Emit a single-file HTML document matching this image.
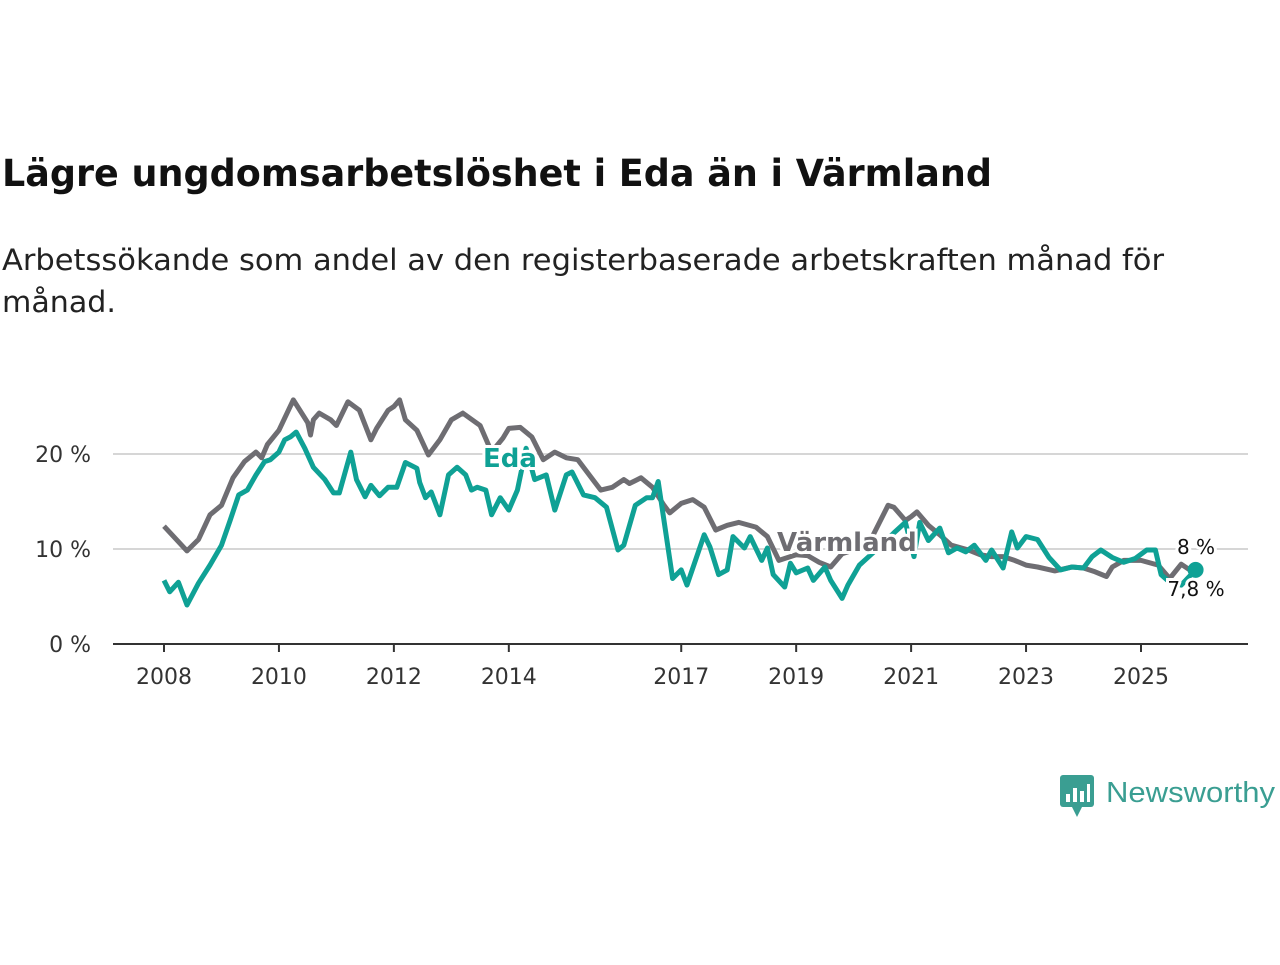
<!DOCTYPE html>
<html><head><meta charset="utf-8"><style>
body{margin:0;background:#fff;width:1280px;height:960px;overflow:hidden;font-family:"Liberation Sans","DejaVu Sans",sans-serif;}
svg text{font-family:"DejaVu Sans","Liberation Sans",sans-serif;}
</style></head><body>
<svg width="1280" height="960">
<text x="2" y="186" font-size="37" font-weight="bold" fill="#111" textLength="990" lengthAdjust="spacingAndGlyphs">Lägre ungdomsarbetslöshet i Eda än i Värmland</text>
<text x="2" y="270" font-size="29" fill="#222" textLength="1162" lengthAdjust="spacingAndGlyphs">Arbetssökande som andel av den registerbaserade arbetskraften månad för</text>
<text x="2" y="312" font-size="29" fill="#222" textLength="114" lengthAdjust="spacingAndGlyphs">månad.</text>
<g id="grid"></g><g id="axes"></g><g id="lines"></g><g id="labels"></g>
<g>
<rect x="1060" y="775" width="34" height="32" rx="3" fill="#3a9e92"/>
<path d="M1072 807 L1077 817 L1082 807 Z" fill="#3a9e92"/>
<rect x="1066" y="794" width="4" height="8" fill="#fff"/><rect x="1073" y="788" width="4" height="14" fill="#fff"/><rect x="1080" y="791" width="4" height="11" fill="#fff"/><rect x="1087" y="784" width="3" height="18" fill="#fff"/>
<text x="1106" y="802" font-size="29" fill="#3a9e92" textLength="169" lengthAdjust="spacingAndGlyphs" style="font-family:'Liberation Sans',sans-serif">Newsworthy</text>
</g>
</svg>
<script>
const ticksY=[0,10,20];
const ticksX=[2008,2010,2012,2014,2017,2019,2021,2023,2025];
const vDates=[2008.0,2008.4,2008.6,2008.8,2009.0,2009.2,2009.4,2009.6,2009.7,2009.8,2010.0,2010.25,2010.5,2010.55,2010.6,2010.7,2010.9,2011.0,2011.2,2011.4,2011.6,2011.7,2011.9,2012.0,2012.1,2012.2,2012.4,2012.6,2012.8,2013.0,2013.2,2013.5,2013.7,2013.9,2014.0,2014.2,2014.4,2014.6,2014.8,2015.0,2015.2,2015.5,2015.6,2015.8,2016.0,2016.1,2016.3,2016.5,2016.7,2016.8,2017.0,2017.2,2017.4,2017.6,2017.8,2018.0,2018.3,2018.5,2018.7,2018.9,2019.0,2019.2,2019.4,2019.6,2019.8,2020.0,2020.3,2020.6,2020.7,2020.9,2021.0,2021.1,2021.3,2021.5,2021.7,2022.0,2022.2,2022.4,2022.6,2022.8,2023.0,2023.2,2023.5,2023.8,2024.0,2024.2,2024.4,2024.5,2024.7,2025.0,2025.3,2025.5,2025.7,2025.85,2025.95];
const vVals=[12.4,9.8,11,13.6,14.6,17.5,19.2,20.2,19.6,21,22.5,25.7,23.3,22,23.6,24.3,23.6,23,25.5,24.6,21.5,22.7,24.6,25,25.7,23.6,22.5,19.9,21.5,23.6,24.3,23,20.2,21.7,22.7,22.8,21.8,19.4,20.2,19.6,19.4,17,16.2,16.5,17.3,16.9,17.5,16.5,14.6,13.8,14.8,15.2,14.4,12,12.5,12.8,12.3,11.3,8.8,9.2,9.4,9.3,8.6,8.1,9.5,9.9,11,14.6,14.4,13,13.4,13.9,12.5,11.5,10.4,9.9,9.4,9.2,9.2,8.8,8.3,8.1,7.7,8.1,8,7.6,7.1,8.1,8.8,8.8,8.3,6.9,8.4,7.8,7.9];
const eDates=[2008.0,2008.1,2008.25,2008.4,2008.6,2008.8,2009.0,2009.15,2009.3,2009.45,2009.6,2009.75,2009.85,2010.0,2010.1,2010.2,2010.3,2010.45,2010.6,2010.8,2010.95,2011.05,2011.25,2011.35,2011.5,2011.6,2011.75,2011.9,2012.05,2012.2,2012.4,2012.45,2012.55,2012.65,2012.8,2012.95,2013.1,2013.25,2013.35,2013.45,2013.6,2013.7,2013.85,2014.0,2014.15,2014.3,2014.45,2014.65,2014.8,2015.0,2015.1,2015.3,2015.5,2015.7,2015.9,2016.0,2016.2,2016.4,2016.5,2016.6,2016.85,2017.0,2017.1,2017.4,2017.5,2017.65,2017.8,2017.9,2018.1,2018.2,2018.4,2018.5,2018.6,2018.8,2018.9,2019.0,2019.2,2019.3,2019.5,2019.6,2019.8,2019.9,2020.1,2020.3,2020.5,2020.7,2020.9,2021.05,2021.15,2021.3,2021.5,2021.65,2021.8,2021.95,2022.1,2022.3,2022.4,2022.6,2022.75,2022.85,2023.0,2023.2,2023.4,2023.6,2023.8,2024.0,2024.15,2024.3,2024.5,2024.7,2024.9,2025.1,2025.25,2025.35,2025.5,2025.7,2025.95];
const eVals=[6.7,5.5,6.5,4.1,6.4,8.3,10.4,13,15.7,16.2,17.8,19.2,19.4,20.2,21.5,21.8,22.3,20.6,18.6,17.3,15.9,15.9,20.2,17.3,15.5,16.7,15.6,16.5,16.5,19.1,18.5,17,15.4,16,13.6,17.8,18.6,17.8,16.2,16.5,16.2,13.6,15.4,14.1,16.2,20.6,17.3,17.8,14.1,17.8,18.1,15.7,15.4,14.4,9.9,10.4,14.6,15.4,15.4,17.1,6.9,7.8,6.2,11.5,10.2,7.3,7.8,11.3,10.1,11.3,8.8,10.1,7.3,6,8.5,7.5,8,6.7,8.1,6.7,4.8,6.2,8.3,9.4,10.5,11.7,12.8,9.2,12.8,10.9,12.2,9.6,10.1,9.7,10.4,8.8,9.9,8,11.8,10.1,11.3,11,9.1,7.8,8.1,8,9.2,9.9,9.1,8.6,9,9.9,9.9,7.3,6.5,6.2,7.8];
const NS='http://www.w3.org/2000/svg';
const X0=113,X1=1248;
function sx(d){return 164+(d-2008)*57.47;}
function sy(v){return 644-v*9.5;}
function mk(tag,attrs,parent,txt){const e=document.createElementNS(NS,tag);for(const k in attrs)e.setAttribute(k,attrs[k]);if(txt!==undefined)e.textContent=txt;document.getElementById(parent).appendChild(e);return e;}
ticksY.forEach(t=>{
 if(t>0){const g=mk('line',{x1:X0,x2:X1,y1:sy(t),y2:sy(t),stroke:'#d6d6d6','stroke-width':2},'grid');
 
 }
 const l=mk('text',{x:91,y:sy(t)+8,'text-anchor':'end','font-size':22,fill:'#333'},'axes',t+' %');
 
 
});
const ax=mk('line',{x1:X0,x2:X1,y1:644,y2:644,stroke:'#333','stroke-width':2},'axes');


ticksX.forEach(t=>{
 const tk=mk('line',{x1:sx(t),x2:sx(t),y1:644,y2:652,stroke:'#333','stroke-width':2},'axes');
 
 
 const l=mk('text',{x:sx(t),y:684,'text-anchor':'middle','font-size':22,fill:'#333'},'axes',String(t));
 
 
});
function path(ds,vs){return ds.map((d,i)=>(i?'L':'M')+sx(d).toFixed(1)+' '+sy(vs[i]).toFixed(1)).join(' ');}
const pv=mk('path',{d:path(vDates,vVals),fill:'none',stroke:'#6e6d72','stroke-width':5,'stroke-linejoin':'round'},'lines');


const pe=mk('path',{d:path(eDates,eVals),fill:'none',stroke:'#0fa195','stroke-width':5,'stroke-linejoin':'round'},'lines');


const dot=mk('circle',{cx:sx(eDates[eDates.length-1]),cy:sy(eVals[eVals.length-1]),r:8,fill:'#0fa195'},'lines');


function lab(x,y,txt,col,sz,w,name,anchor){
 const t=mk('text',{x:x,y:y,'font-size':sz,'font-weight':w,fill:col,stroke:'#fff','stroke-width':6,'paint-order':'stroke','text-anchor':anchor||'start'},'labels',txt);
 
 
}
lab(483,467,'Eda','#0fa195',26,'bold','eda-label');
lab(777,551,'Värmland','#6e6d72',26,'bold','varmland-label');
lab(1196,554,'8 %','#111',20,'normal','varmland-end-value','middle');
lab(1196,596,'7,8 %','#111',20,'normal','eda-end-value','middle');
</script>
</body></html>
